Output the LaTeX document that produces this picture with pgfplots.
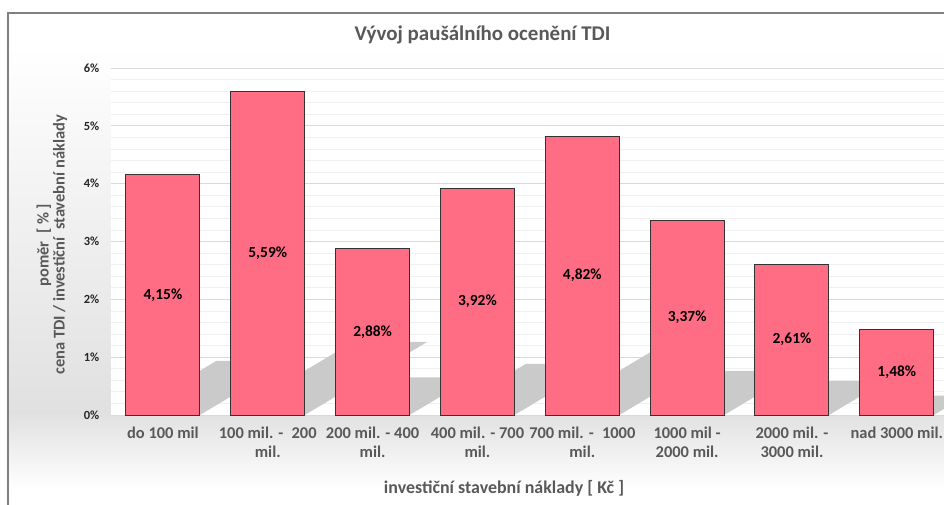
\documentclass[border=0pt]{standalone}
\usepackage{pgfplots}
\usepackage{pgfplotstable}
\pgfplotsset{compat=1.18}
\usepackage{fontspec}
\setmainfont{Carlito}
\definecolor{barpink}{HTML}{FF6D85}
\definecolor{txtgray}{HTML}{595959}
\definecolor{gridmaj}{HTML}{D9D9D9}
\definecolor{gridmin}{HTML}{F0F0F0}
\definecolor{shadowc}{HTML}{CACACA}
\pgfplotstableread{
x v
0 4.15
1 5.59
2 2.88
3 3.92
4 4.82
5 3.37
6 2.61
7 1.48
}\datatable
\begin{document}
\begin{tikzpicture}
\path[use as bounding box] (0bp,0bp) rectangle (944bp,-505bp);
\shade[top color=white, bottom color=black!12] (8.5bp,-45bp) rectangle (944bp,-412bp);
\shade[top color=black!12, bottom color=white] (8.5bp,-412bp) rectangle (944bp,-490bp);
\draw[black!50, line width=1.2bp] (8bp,-505bp) -- (8bp,-13bp) -- (944bp,-13bp);
\node[font=\fontsize{21}{24}\selectfont\bfseries, text=txtgray] at (482.5bp,-35bp) {Vývoj paušálního ocenění TDI};
\begin{axis}[
 at={(110.5bp,-415bp)}, anchor=south west,
 scale only axis, width=833.5bp, height=347bp,
 xmin=-0.5, xmax=7.45, ymin=0, ymax=6,
 axis background/.style={fill=white},
 axis line style={draw=none}, tick style={draw=none},
 ytick={0,1,2,3,4,5,6}, minor y tick num=4,
 ymajorgrids, yminorgrids,
 major grid style={gridmaj, line width=0.8bp},
 minor grid style={gridmin, line width=0.8bp},
 /pgf/number format/assume math mode=true,
 yticklabel={\pgfmathprintnumber{\tick}\%},
 yticklabel style={font=\fontsize{12.5}{13}\selectfont\bfseries, text=black!85, anchor=east, inner sep=0pt, xshift=-11bp},
 xtick={0,1,2,3,4,5,6,7},
 xticklabels={{do 100 mil},{100 mil. -\enspace 200\\mil.},{200 mil. - 400\\mil.},{400 mil. - 700\\mil.},{700 mil. -\enspace 1000\\mil.},{1000 mil -\\2000 mil.},{2000 mil. -\\3000 mil.},{nad 3000 mil.}},
 xticklabel style={font=\fontsize{16.5}{18.5}\selectfont\bfseries, text=txtgray, align=center, anchor=north, inner sep=0pt, yshift=-12bp},
]
\addplot[fill=shadowc, draw=none, forget plot] coordinates {(-0.353,0) (0.353,0) (1.218,0.938) (0.512,0.938)} -- cycle;
\addplot[fill=shadowc, draw=none, forget plot] coordinates {(0.647,0) (1.353,0) (2.519,1.263) (1.813,1.263)} -- cycle;
\addplot[fill=shadowc, draw=none, forget plot] coordinates {(1.647,0) (2.353,0) (2.953,0.651) (2.247,0.651)} -- cycle;
\addplot[fill=shadowc, draw=none, forget plot] coordinates {(2.647,0) (3.353,0) (4.170,0.886) (3.464,0.886)} -- cycle;
\addplot[fill=shadowc, draw=none, forget plot] coordinates {(3.647,0) (4.353,0) (5.358,1.089) (4.652,1.089)} -- cycle;
\addplot[fill=shadowc, draw=none, forget plot] coordinates {(4.647,0) (5.353,0) (6.056,0.762) (5.350,0.762)} -- cycle;
\addplot[fill=shadowc, draw=none, forget plot] coordinates {(5.647,0) (6.353,0) (6.897,0.590) (6.191,0.590)} -- cycle;
\addplot[fill=shadowc, draw=none, forget plot] coordinates {(6.647,0) (7.353,0) (7.662,0.334) (6.956,0.334)} -- cycle;
\addplot[ybar, bar width=74bp, fill=barpink, draw=black!80, line width=1bp] table[x=x, y=v] {\datatable};
\addplot[draw=none, point meta=explicit,
  nodes near coords={\pgfmathprintnumber[fixed,fixed zerofill,precision=2,use comma,assume math mode=true]{\pgfplotspointmeta}\%},
  every node near coord/.append style={anchor=center, font=\fontsize{15.5}{16}\selectfont\bfseries, text=black}]
  table[x=x, y expr=\thisrow{v}/2, meta=v] {\datatable};
\end{axis}
\node[rotate=90, align=center, font=\fontsize{16.5}{16}\selectfont\bfseries, text=txtgray] at (52bp,-245bp) {poměr\ \ [ \% ]\\cena TDI / investiční\ \ stavební náklady};
\node[font=\fontsize{18}{20}\selectfont\bfseries, text=txtgray] at (504bp,-488bp) {investiční stavební náklady [ Kč ]};
\end{tikzpicture}
\end{document}
